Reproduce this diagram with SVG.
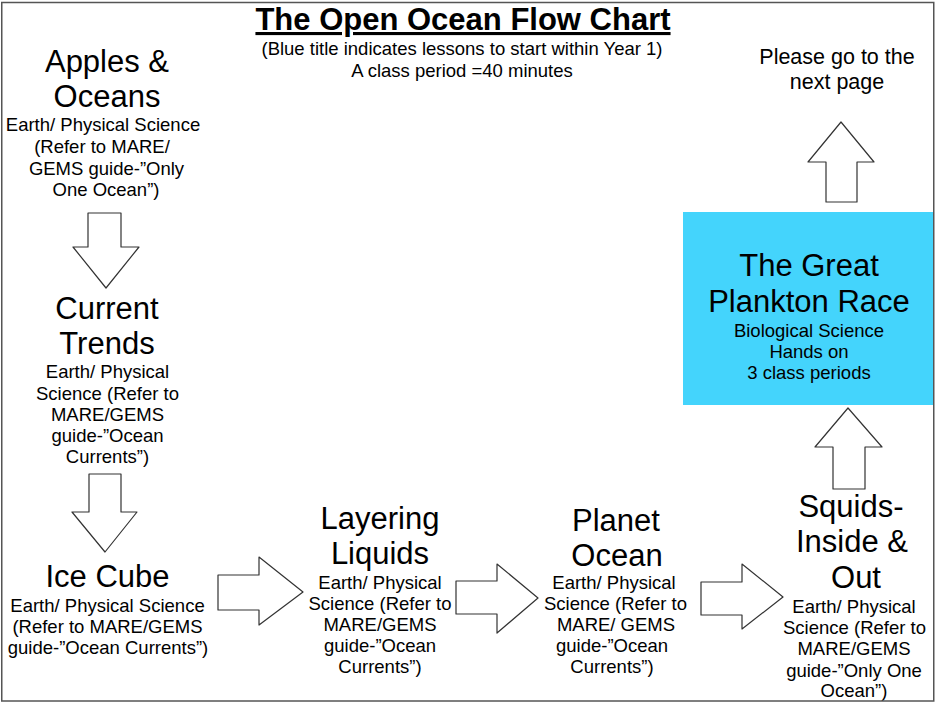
<svg xmlns="http://www.w3.org/2000/svg" width="935" height="702" viewBox="0 0 935 702">
<style>
text{font-family:"Liberation Sans",Arial,sans-serif;fill:#000;text-anchor:middle}
.big{font-size:31px}
.sm{font-size:18.5px}
.title{font-size:31px;font-weight:bold;text-decoration:underline}
.note{font-size:21.5px}
.arrow{fill:#fff;stroke:#333;stroke-width:1.2;stroke-linejoin:round}
</style>
<rect x="0" y="0" width="935" height="702" fill="#fff"/>
<g id="header">
<text class="title" x="463" y="30">The Open Ocean Flow Chart</text>
<text class="sm" x="462" y="55">(Blue title indicates lessons to start within Year 1)</text>
<text class="sm" x="462" y="77">A class period =40 minutes</text>
</g>
<g id="node-apples">
<text class="big" x="107" y="72">Apples &amp;</text>
<text class="big" x="107" y="107">Oceans</text>
<text class="sm" x="103" y="131">Earth/ Physical Science</text>
<text class="sm" x="102" y="153">(Refer to MARE/</text>
<text class="sm" x="106.5" y="175">GEMS guide-”Only</text>
<text class="sm" x="106" y="196">One Ocean”)</text>
</g>
<g id="node-current">
<text class="big" x="107" y="319">Current</text>
<text class="big" x="107" y="354">Trends</text>
<text class="sm" x="107.5" y="378">Earth/ Physical</text>
<text class="sm" x="107.5" y="400">Science (Refer to</text>
<text class="sm" x="107.5" y="421">MARE/GEMS</text>
<text class="sm" x="107.5" y="442">guide-”Ocean</text>
<text class="sm" x="107.5" y="463">Currents”)</text>
</g>
<g id="node-icecube">
<text class="big" x="107.5" y="587">Ice Cube</text>
<text class="sm" x="107.5" y="612">Earth/ Physical Science</text>
<text class="sm" x="107.5" y="633">(Refer to MARE/GEMS</text>
<text class="sm" x="108" y="654">guide-”Ocean Currents”)</text>
</g>
<g id="node-layering">
<text class="big" x="380" y="529">Layering</text>
<text class="big" x="380" y="564">Liquids</text>
<text class="sm" x="380" y="589">Earth/ Physical</text>
<text class="sm" x="380" y="610">Science (Refer to</text>
<text class="sm" x="380" y="631">MARE/GEMS</text>
<text class="sm" x="380" y="652">guide-”Ocean</text>
<text class="sm" x="380" y="673">Currents”)</text>
</g>
<g id="node-planet">
<text class="big" x="616" y="531">Planet</text>
<text class="big" x="617" y="566">Ocean</text>
<text class="sm" x="614" y="589">Earth/ Physical</text>
<text class="sm" x="615.5" y="610">Science (Refer to</text>
<text class="sm" x="616" y="631">MARE/ GEMS</text>
<text class="sm" x="612" y="652">guide-”Ocean</text>
<text class="sm" x="612" y="673">Currents”)</text>
</g>
<g id="node-squids">
<text class="big" x="851" y="517">Squids-</text>
<text class="big" x="852" y="552">Inside &amp;</text>
<text class="big" x="856" y="588">Out</text>
<text class="sm" x="854" y="613">Earth/ Physical</text>
<text class="sm" x="854.5" y="634">Science (Refer to</text>
<text class="sm" x="854" y="655">MARE/GEMS</text>
<text class="sm" x="854" y="677">guide-”Only One</text>
<text class="sm" x="854" y="697">Ocean”)</text>
</g>
<g id="node-plankton">
<rect x="683" y="212" width="251" height="193" fill="#44D4FC"/>
<text class="big" x="809" y="276">The Great</text>
<text class="big" x="809" y="312">Plankton Race</text>
<text class="sm" x="809" y="337">Biological Science</text>
<text class="sm" x="809" y="358">Hands on</text>
<text class="sm" x="809" y="379">3 class periods</text>
</g>
<g id="node-next">
<text class="note" x="837" y="64">Please go to the</text>
<text class="note" x="837" y="88.5">next page</text>
</g>
<g id="connectors">
<polygon class="arrow" points="88,213 121,213 121,247 139,247 106,288 73,247 88,247"/>
<polygon class="arrow" points="89,474 121,474 121,512 137,512 105,552 72,512 89,512"/>
<polygon class="arrow" points="218,575 259,575 259,557 303,592 259,625 259,610 218,610"/>
<polygon class="arrow" points="456,581 497,581 497,564 538,598 497,633 497,614 456,614"/>
<polygon class="arrow" points="701,582 742,582 742,564 783,597 742,629 742,615 701,615"/>
<polygon class="arrow" points="833,489 833,447 815,447 848,408 882,447 865,447 865,489"/>
<polygon class="arrow" points="826,202 826,162 808,162 841,122 874,162 857,162 857,202"/>
</g>
<rect x="1.75" y="2.5" width="932" height="698.5" fill="none" stroke="#555" stroke-width="1.5"/>
</svg>
